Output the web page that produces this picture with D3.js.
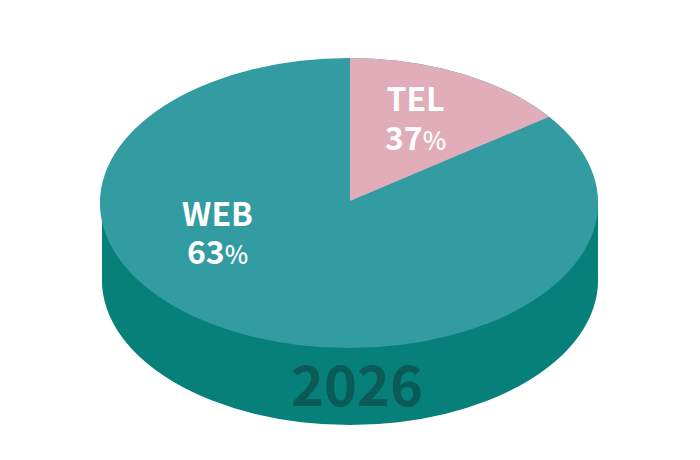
<!DOCTYPE html>
<html><head><meta charset="utf-8">
<script src="https://cdnjs.cloudflare.com/ajax/libs/d3/7.8.5/d3.min.js"></script>
<style>html,body{margin:0;background:#fff}svg{display:block}text{font-family:"Noto Sans CJK JP","Noto Sans",sans-serif;text-anchor:middle}</style>
</head><body><div id="c"></div>
<script>
const categories = ["TEL", "WEB"];
const printedPercent = [37, 63];
// The slices as drawn in the picture (the printed labels differ from the drawn angle)
const drawnShare = [15.0, 85.0];
const sliceColors = ["#e0adb9", "#339ca3"];
const year = "2026";

const W = 700, H = 460, cx = 349, cy = 203, rx = 249, ry = 145, depth = 77;
const svg = d3.select("#c").append("svg").attr("width", W).attr("height", H);
const pie = d3.pie().sort(null)(drawnShare);
const arc = d3.arc().innerRadius(0).outerRadius(rx + 30);
const full = d3.arc().innerRadius(0).outerRadius(rx)({startAngle: 0, endAngle: 2 * Math.PI});
const squash = ry / rx;

svg.append("clipPath").attr("id", "top").append("path").attr("d", full)
  .attr("transform", `translate(${cx},${cy}) scale(1,${squash})`);

svg.append("path").attr("d", full).attr("fill", "#07807a")
  .attr("transform", `translate(${cx + 1},${cy + depth}) scale(${(rx - 1) / rx},${squash})`);
svg.append("rect").attr("x", cx - rx + 2).attr("y", cy).attr("width", 2 * rx - 2).attr("height", depth).attr("fill", "#07807a");
svg.append("path").attr("d", full).attr("fill", sliceColors[1])
  .attr("transform", `translate(${cx},${cy}) scale(1,${squash})`);
svg.append("g").attr("clip-path", "url(#top)")
  .selectAll("path.slice").data(pie.slice(0, 1)).join("path").attr("class", "slice")
  .attr("d", arc).attr("fill", (d, i) => sliceColors[i])
  .attr("transform", `translate(${cx + 1},${cy - 2}) scale(1,${squash})`);

const labelPos = [[415.5, 111, 150], [217.5, 226, 264]];
categories.forEach((c, i) => {
  const [x, y1, y2] = labelPos[i];
  svg.append("text").attr("x", x).attr("y", y1).attr("fill", "#fff").attr("font-size", 32).attr("font-weight", 700).text(c);
  const t = svg.append("text").attr("x", x).attr("y", y2).attr("fill", "#fff").attr("font-size", 32).attr("font-weight", 700);
  t.append("tspan").text(printedPercent[i]);
  t.append("tspan").attr("font-size", 25).attr("font-weight", 500).text("%");
});
svg.append("text").attr("x", 357).attr("y", 406).attr("fill", "#0a5a58").attr("font-size", 56).attr("font-weight", 700).text(year);
</script></body></html>
